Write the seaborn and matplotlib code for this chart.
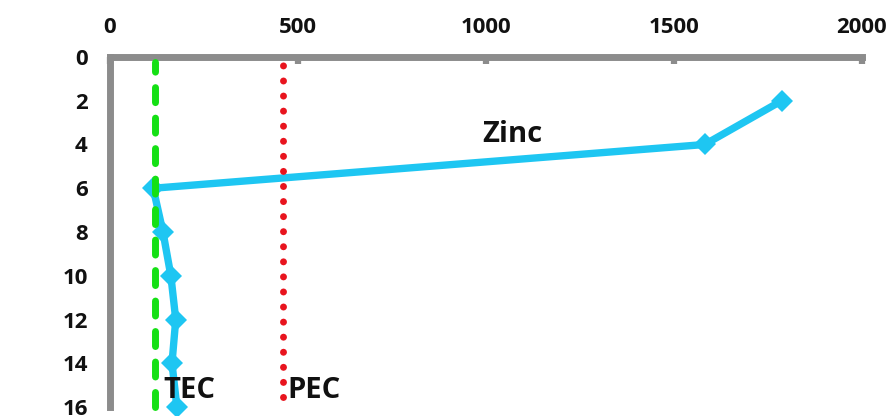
import matplotlib
matplotlib.use("Agg")
import matplotlib.pyplot as plt
import seaborn as sns
import pandas as pd

# Zinc concentration profile by depth, with sediment quality guidelines
depth = [2, 4, 6, 8, 10, 12, 14, 16]
zinc = [1787, 1582, 115, 141, 162, 175, 165, 178]
guideline_names = ["TEC", "PEC"]
guideline_values = [121, 459]
x_ticks = [0, 500, 1000, 1500, 2000]
y_ticks = [0, 2, 4, 6, 8, 10, 12, 14, 16]

sns.set_theme(style="white")
plt.rcParams["font.family"] = ["Open Sans", "DejaVu Sans"]
plt.rcParams["font.weight"] = "bold"

fig = plt.figure(figsize=(8.94, 4.16), dpi=100)
ax = fig.add_axes([0.123, 0.0216, 0.841, 0.8414])

df = pd.DataFrame({"depth": depth, "zinc": zinc})
sns.lineplot(data=df, x="zinc", y="depth", sort=False, estimator=None,
             color="#1EC6F2", linewidth=5.3, marker="D", markersize=11,
             markeredgewidth=0, ax=ax, clip_on=False, zorder=3)

# Guideline lines: TEC dashed green, PEC dotted red
ax.axvline(guideline_values[0], ymin=0, ymax=0.985, color="#14E014", linewidth=5,
           linestyle=(0, (2.16, 2.23)), dash_capstyle="round", zorder=4,
           clip_on=False)
ax.axvline(guideline_values[1], ymin=0.03, ymax=0.99, color="#E8141E", linewidth=5,
           linestyle=(0, (0.01, 2.16)), dash_capstyle="round", zorder=4)

ax.text(990, 3.9, "Zinc", fontsize=21, fontweight="bold", color="#111111",
        ha="left", va="baseline")
ax.text(guideline_values[0] + 20, 15.57, guideline_names[0], fontsize=21,
        fontweight="bold", color="#111111", ha="left", va="baseline", zorder=6)
ax.text(guideline_values[1] + 14, 15.57, guideline_names[1], fontsize=21,
        fontweight="bold", color="#111111", ha="left", va="baseline", zorder=6)

ax.set_xlim(0, 2000)
ax.set_ylim(16, 0)
ax.set_xticks(x_ticks)
ax.set_yticks(y_ticks)
ax.xaxis.tick_top()
ax.set_xlabel("")
ax.set_ylabel("")

for side in ["right", "bottom"]:
    ax.spines[side].set_visible(False)
for side in ["top", "left"]:
    ax.spines[side].set_color("#8C8C8C")
    ax.spines[side].set_linewidth(5)
    ax.spines[side].set_capstyle("projecting")

ax.tick_params(axis="both", direction="in", length=5, width=4.5,
               color="#8C8C8C", labelsize=16, labelcolor="#111111")
ax.tick_params(axis="x", pad=14)
ax.tick_params(axis="y", pad=16)
for lbl in ax.get_xticklabels() + ax.get_yticklabels():
    lbl.set_fontweight("bold")

fig.savefig("out.png", dpi=100)
